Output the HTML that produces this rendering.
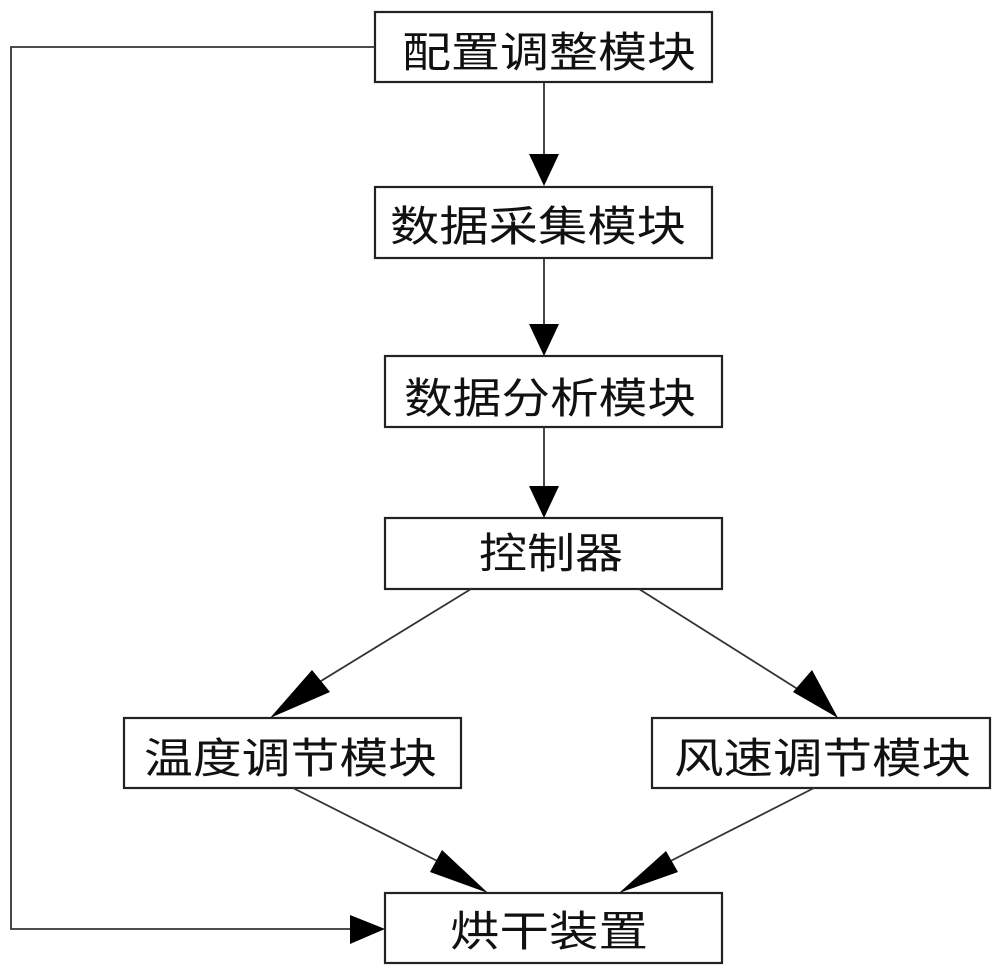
<!DOCTYPE html>
<html><head><meta charset="utf-8"><style>html,body{margin:0;padding:0;background:#fff}svg{display:block}</style></head>
<body>
<svg width="1000" height="974" viewBox="0 0 1000 974" xmlns="http://www.w3.org/2000/svg">
<g fill="#fff" stroke="#222" stroke-width="2.2">
<rect x="375" y="12" width="337" height="70"/>
<rect x="375" y="187" width="337" height="71"/>
<rect x="385" y="356" width="337" height="71"/>
<rect x="385" y="518" width="337" height="71"/>
<rect x="124" y="718" width="337" height="70"/>
<rect x="652" y="718" width="338" height="70"/>
<rect x="385" y="893" width="337" height="70"/>
</g>
<g stroke="#333" stroke-width="1.8" fill="none">
<line x1="544" y1="82" x2="544" y2="160"/>
<line x1="544" y1="258" x2="544" y2="330"/>
<line x1="544" y1="427" x2="544" y2="495"/>
<polyline points="375,47 11,47 11,929 355,929"/>
<line x1="471" y1="589" x2="290" y2="700"/>
<line x1="639" y1="589" x2="815" y2="700"/>
<line x1="293" y1="788" x2="465" y2="875"/>
<line x1="814" y1="788" x2="643" y2="875"/>
</g>
<g fill="#000">
<polygon points="529,154 559,154 544,186"/>
<polygon points="529,324 559,324 544,356"/>
<polygon points="529,486 559,486 544,518"/>
<polygon points="350,915 350,944 385,929"/>
<polygon points="270,718 312,670 330,692"/>
<polygon points="838,718 793,692 812,670"/>
<polygon points="488,893 430,872 442,850"/>
<polygon points="619,893 666,851 678,872"/>
</g>
<g font-family="'Liberation Sans','Noto Sans CJK SC','WenQuanYi Zen Hei',sans-serif" font-size="42" fill="#111">
<text x="402" y="67" textLength="294" lengthAdjust="spacingAndGlyphs">配置调整模块</text>
<text x="390" y="241" textLength="296" lengthAdjust="spacingAndGlyphs">数据采集模块</text>
<text x="404" y="413" textLength="292" lengthAdjust="spacingAndGlyphs">数据分析模块</text>
<text x="479" y="568" textLength="144" lengthAdjust="spacingAndGlyphs">控制器</text>
<text x="144" y="773" textLength="293" lengthAdjust="spacingAndGlyphs">温度调节模块</text>
<text x="674" y="773" textLength="297" lengthAdjust="spacingAndGlyphs">风速调节模块</text>
<text x="450" y="946" textLength="198" lengthAdjust="spacingAndGlyphs">烘干装置</text>
</g>
</svg>
</body></html>
